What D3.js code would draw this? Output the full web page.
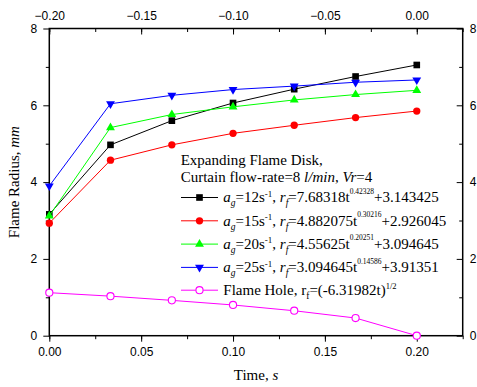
<!DOCTYPE html>
<html>
<head>
<meta charset="utf-8">
<script src="https://cdn.jsdelivr.net/npm/d3@7"></script>
<style>
  html, body { margin: 0; padding: 0; background: #fff; }
  svg { display: block; }
  .tick text { font-family: "Liberation Sans", Arial, sans-serif; font-size: 12px; fill: #000; }
  .serif { font-family: "Liberation Serif", "Times New Roman", serif; fill: #000; }
</style>
</head>
<body>
<svg id="chart" width="477" height="387"></svg>
<script>
// Measured flame radius (mm) versus time (s)
const time   = [0, 0.0333, 0.0667, 0.1, 0.1333, 0.1667, 0.2];
const ag12   = [3.16, 4.97, 5.60, 6.06, 6.42, 6.75, 7.05];
const ag15   = [2.93, 4.57, 4.97, 5.27, 5.48, 5.68, 5.85];
const ag20   = [3.12, 5.42, 5.76, 5.96, 6.14, 6.28, 6.39];
const ag25   = [3.90, 6.04, 6.26, 6.41, 6.50, 6.60, 6.66];
const hole   = [1.12, 1.03, 0.92, 0.80, 0.65, 0.46, 0.00];

const bottomTicks = [0, 0.05, 0.10, 0.15, 0.20];
const topTicks    = [-0.20, -0.15, -0.10, -0.05, 0.00];
const yTicks      = [0, 2, 4, 6, 8];

const svg = d3.select("#chart");
const L = 49.3, R = 462.7, T = 28.5, B = 335.7;

const x    = d3.scaleLinear().domain([0, 0.225]).range([L, R]);
const xTop = d3.scaleLinear().domain([-0.2, 0.025]).range([L, R]);
const y    = d3.scaleLinear().domain([0, 8]).range([B, T]);

const minorBottom = d3.range(0, 0.2251, 0.025);
const minorTop = d3.range(-0.2, 0.0251, 0.025);
const minorY = [1, 3, 5, 7];

// ---- axes ----
function styleAxis(g) {
  g.select(".domain").remove();
  g.selectAll(".tick line").attr("stroke", "#000").attr("stroke-width", 1);
}

svg.append("g").attr("transform", `translate(0,${B})`)
  .call(d3.axisBottom(x).tickValues(minorBottom).tickSize(3.5).tickFormat(""))
  .call(styleAxis);
svg.append("g").attr("transform", `translate(0,${B})`)
  .call(d3.axisBottom(x).tickValues(bottomTicks).tickSize(6).tickPadding(6).tickFormat(d3.format(".2f")))
  .call(styleAxis);

svg.append("g").attr("transform", `translate(0,${T})`)
  .call(d3.axisTop(xTop).tickValues(minorTop).tickSize(-3.5).tickFormat(""))
  .call(styleAxis);
svg.append("g").attr("transform", `translate(0,${T})`)
  .call(d3.axisTop(xTop).tickValues(topTicks).tickSize(-6).tickPadding(9).tickFormat(d => d3.format(".2f")(Math.abs(d) < 1e-9 ? 0 : d)))
  .call(styleAxis);

svg.append("g").attr("transform", `translate(${L},0)`)
  .call(d3.axisLeft(y).tickValues(minorY).tickSize(3.5).tickFormat(""))
  .call(styleAxis);
svg.append("g").attr("transform", `translate(${L},0)`)
  .call(d3.axisLeft(y).tickValues(yTicks).tickSize(6).tickPadding(6).tickFormat(d3.format("d")))
  .call(styleAxis);

svg.append("g").attr("transform", `translate(${R},0)`)
  .call(d3.axisRight(y).tickValues(minorY).tickSize(-3.5).tickFormat(""))
  .call(styleAxis);
svg.append("g").attr("transform", `translate(${R},0)`)
  .call(d3.axisRight(y).tickValues(yTicks).tickSize(-6).tickPadding(7).tickFormat(d3.format("d")))
  .call(styleAxis);

// frame
svg.append("rect")
  .attr("x", L).attr("y", T).attr("width", R - L).attr("height", B - T)
  .attr("fill", "none").attr("stroke", "#000").attr("stroke-width", 1.5);

// axis titles
const xt = svg.append("text").attr("class", "serif")
  .attr("x", (L + R) / 2).attr("y", 380).attr("text-anchor", "middle")
  .style("font-size", "15px");
xt.append("tspan").text("Time, ");
xt.append("tspan").style("font-style", "italic").text("s");

const yt = svg.append("text").attr("class", "serif")
  .attr("transform", `translate(19,${(T + B) / 2}) rotate(-90)`)
  .attr("text-anchor", "middle").style("font-size", "15px");
yt.append("tspan").text("Flame Radius, ");
yt.append("tspan").style("font-style", "italic").text("mm");

// ---- series ----
const series = [
  { vals: ag12, color: "#000000", shape: "square" },
  { vals: ag15, color: "#ff0000", shape: "circle" },
  { vals: ag20, color: "#00ff00", shape: "up" },
  { vals: ag25, color: "#0000ff", shape: "down" },
  { vals: hole, color: "#ff00ff", shape: "open" }
];

const line = d3.line().x(d => x(d[0])).y(d => y(d[1]));

function symbolPath(shape) {
  if (shape === "square") return d3.symbol(d3.symbolSquare, 44)();
  if (shape === "circle") return d3.symbol(d3.symbolCircle, 42)();
  if (shape === "up" || shape === "down") return d3.symbol(d3.symbolTriangle, 34)();
  return d3.symbol(d3.symbolCircle, 40)();
}

function drawMarker(g, shape, color, cx, cy) {
  const p = g.append("path")
    .attr("d", symbolPath(shape))
    .attr("transform", `translate(${cx},${cy})` + (shape === "down" ? " rotate(180)" : ""));
  if (shape === "open") p.attr("fill", "#fff").attr("stroke", color).attr("stroke-width", 1.1);
  else p.attr("fill", color).attr("stroke", "none");
}

series.forEach(s => {
  const pts = time.map((t, i) => [t, s.vals[i]]);
  svg.append("path").datum(pts)
    .attr("d", line).attr("fill", "none")
    .attr("stroke", s.color).attr("stroke-width", 1);
  const g = svg.append("g");
  pts.forEach(p => drawMarker(g, s.shape, s.color, x(p[0]), y(p[1])));
});

// ---- legend ----
function richText(parent, px, py, segs, size) {
  const t = parent.append("text").attr("class", "serif")
    .attr("x", px).attr("y", py).style("font-size", size + "px");
  let cur = 0;
  segs.forEach(s => {
    const shift = s.shift || 0;
    const ts = t.append("tspan").text(s.t).attr("dy", shift - cur);
    cur = shift;
    if (s.it) ts.style("font-style", "italic");
    if (s.size) ts.style("font-size", s.size + "px");
  });
  return t;
}

const leg = svg.append("g");
richText(leg, 180.7, 164.5, [{ t: "Expanding Flame Disk," }], 15);
richText(leg, 180.7, 181.5, [
  { t: "Curtain flow-rate=8 " }, { t: "l/min", it: true }, { t: ", " },
  { t: "Vr", it: true }, { t: "=4" }
], 15);

const legendRows = [
  { color: "#000000", shape: "square", ag: "12", coef: "7.68318", exp: "0.42328", c: "+3.143425" },
  { color: "#ff0000", shape: "circle", ag: "15", coef: "4.882075", exp: "0.30216", c: "+2.926045" },
  { color: "#00ff00", shape: "up", ag: "20", coef: "4.55625", exp: "0.20251", c: "+3.094645" },
  { color: "#0000ff", shape: "down", ag: "25", coef: "3.094645", exp: "0.14586", c: "+3.91351" }
];

const rowY = [197.5, 220.8, 244.1, 267.4, 290.2];

legendRows.forEach((r, i) => {
  const cy = rowY[i];
  leg.append("line").attr("x1", 181).attr("x2", 218).attr("y1", cy).attr("y2", cy)
    .attr("stroke", r.color).attr("stroke-width", 1);
  drawMarker(leg, r.shape, r.color, 199.5, cy);
  richText(leg, 223.3, cy + 4.8, [
    { t: "a", it: true },
    { t: "g", it: true, shift: 4, size: 9.5 },
    { t: "=" + r.ag + "s" },
    { t: "-1", shift: -5.5, size: 9 },
    { t: ", " },
    { t: "r", it: true },
    { t: "f", it: true, shift: 4, size: 9.5 },
    { t: "=" + r.coef + "t" },
    { t: r.exp, shift: -8.5, size: 7.5 },
    { t: r.c }
  ], 15);
});

// flame hole entry
{
  const cy = rowY[4];
  leg.append("line").attr("x1", 181).attr("x2", 218).attr("y1", cy).attr("y2", cy)
    .attr("stroke", "#ff00ff").attr("stroke-width", 1);
  drawMarker(leg, "open", "#ff00ff", 199.5, cy);
  richText(leg, 223.3, cy + 4.8, [
    { t: "Flame Hole, r" },
    { t: "f", shift: 4, size: 9.5 },
    { t: "=(-6.31982t)" },
    { t: "1/2", shift: -6.5, size: 8.5 }
  ], 15);
}
</script>
</body>
</html>
